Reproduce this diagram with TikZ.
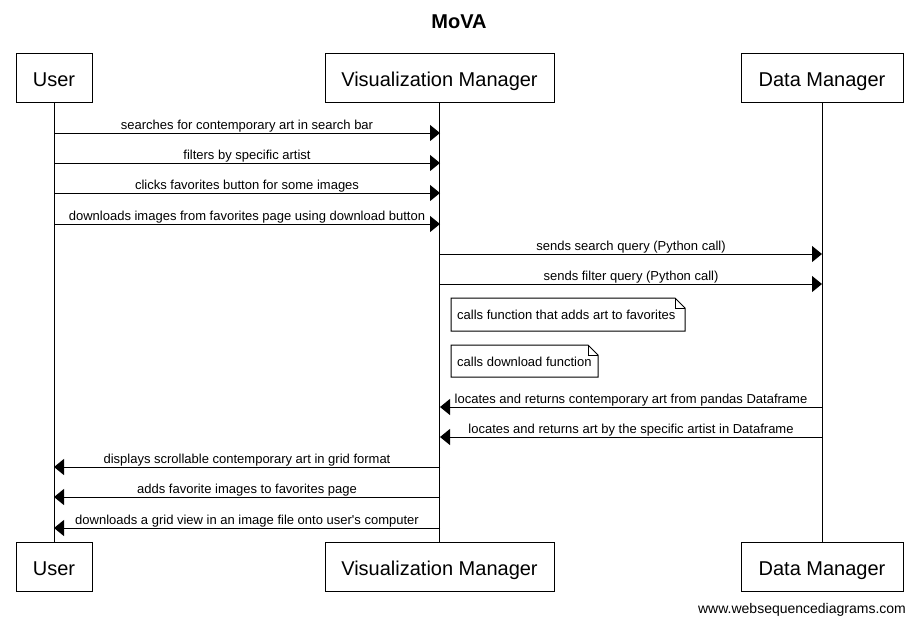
\documentclass[tikz,border=0pt]{standalone}
\usepackage{fontspec}
\setmainfont{Liberation Sans}
\usetikzlibrary{arrows.meta}
\tikzset{
  actor/.style={draw, line width=1pt, minimum height=49pt, inner sep=0pt, text height=19.5pt, text depth=2pt, font=\fontsize{20}{24}\selectfont},
  life/.style={line width=1pt},
  msg/.style={line width=1pt, -{Triangle[length=10pt,width=16pt]}},
  lbl/.style={font=\fontsize{13}{15}\selectfont, inner sep=0pt, anchor=base, yshift=4pt},
  notebox/.style={font=\fontsize{13}{15}\selectfont, inner sep=0pt, anchor=west},
  noteline/.style={line width=1pt},
}
\begin{document}
\begin{tikzpicture}[x=1pt,y=-1pt]
\useasboundingbox (0,0) rectangle (917,625);
\node[font=\bfseries\fontsize{20}{24}\selectfont] (title) at (459,22) {MoVA};
% actors top
\node[actor, minimum width=76pt] (ut) at (54,77.5) {User};
\node[actor, minimum width=229pt] (vt) at (439.5,77.5) {Visualization Manager};
\node[actor, minimum width=162pt] (dt) at (822,77.5) {Data Manager};
% actors bottom
\node[actor, minimum width=76pt] (ub) at (54,567) {User};
\node[actor, minimum width=229pt] (vb) at (439.5,567) {Visualization Manager};
\node[actor, minimum width=162pt] (db) at (822,567) {Data Manager};
% lifelines
\draw[life] (ut.south) -- (ub.north);
\draw[life] (vt.south) -- (vb.north);
\draw[life] (dt.south) -- (db.north);
% coordinates on lifelines
\foreach \n/\y in {1/133,2/163,3/193,4/224,5/254,6/284,7/407,8/437,9/467,10/497,11/528}{
  \coordinate (u\n) at (54,\y);
  \coordinate (v\n) at (440,\y);
  \coordinate (d\n) at (822,\y);
}
% messages
\draw[msg] (u1) -- node[lbl] (m1) {searches for contemporary art in search bar} (v1);
\draw[msg] (u2) -- node[lbl] (m2) {filters by specific artist} (v2);
\draw[msg] (u3) -- node[lbl] (m3) {clicks favorites button for some images} (v3);
\draw[msg] (u4) -- node[lbl] (m4) {downloads images from favorites page using download button} (v4);
\draw[msg] (v5) -- node[lbl] (m5) {sends search query (Python call)} (d5);
\draw[msg] (v6) -- node[lbl] (m6) {sends filter query (Python call)} (d6);
% notes
\draw[noteline] (451,298) -- (675,298) -- (685,308) -- (685,331) -- (451,331) -- cycle;
\draw[noteline] (675,298) -- (675,308) -- (685,308);
\node[notebox] (n1) at (457,315) {calls function that adds art to favorites};
\draw[noteline] (451,345) -- (588,345) -- (598,355) -- (598,377) -- (451,377) -- cycle;
\draw[noteline] (588,345) -- (588,355) -- (598,355);
\node[notebox] (n2) at (457,361.5) {calls download function};
% returns
\draw[msg] (d7) -- node[lbl] (m7) {locates and returns contemporary art from pandas Dataframe} (v7);
\draw[msg] (d8) -- node[lbl] (m8) {locates and returns art by the specific artist in Dataframe} (v8);
\draw[msg] (v9) -- node[lbl] (m9) {displays scrollable contemporary art in grid format} (u9);
\draw[msg] (v10) -- node[lbl] (m10) {adds favorite images to favorites page} (u10);
\draw[msg] (v11) -- node[lbl] (m11) {downloads a grid view in an image file onto user\textquotesingle s computer} (u11);
% watermark
\node[font=\fontsize{14}{16}\selectfont] (wm) at (802,610) {www.websequencediagrams.com};
\end{tikzpicture}
\end{document}
